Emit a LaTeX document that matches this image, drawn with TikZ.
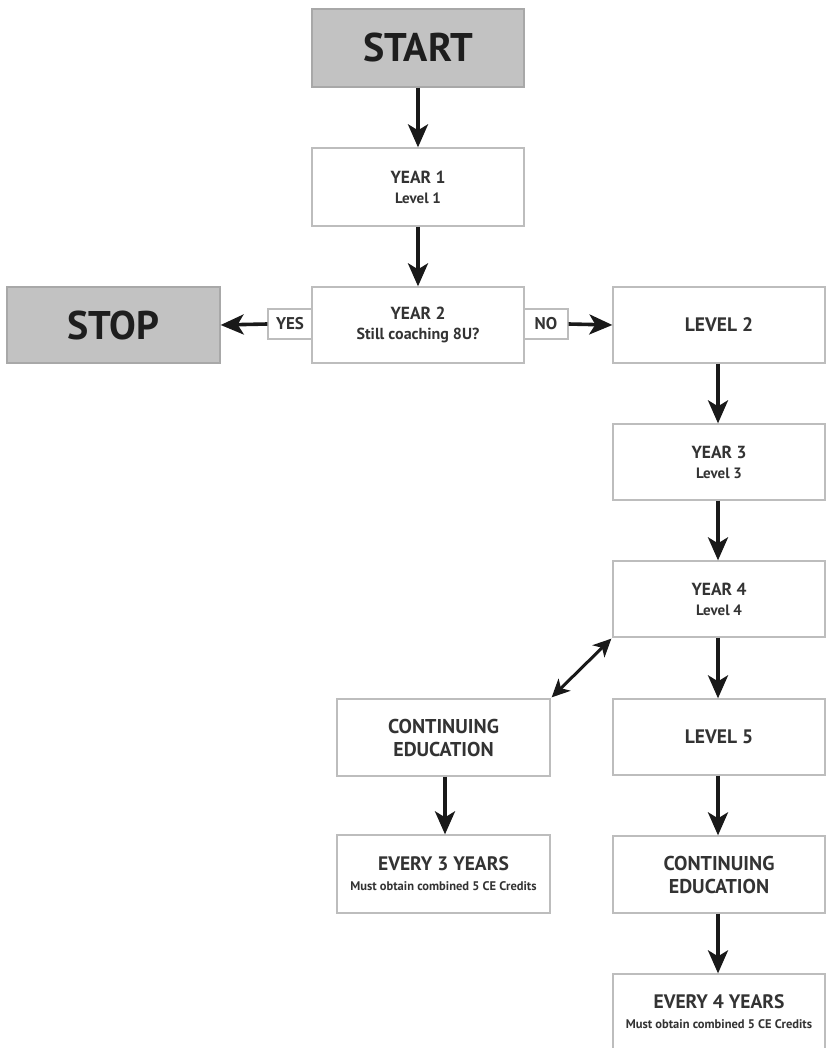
\documentclass[tikz,border=0pt]{standalone}
\usepackage{fontspec}
\setmainfont{PT Sans}
\usetikzlibrary{arrows.meta}
\definecolor{boxline}{HTML}{BDBDBD}
\definecolor{gfill}{HTML}{C2C2C2}
\definecolor{gline}{HTML}{A8A8A8}
\definecolor{txt}{HTML}{333333}
\definecolor{dtxt}{HTML}{1E1E1E}
\tikzset{
  box/.style={draw=boxline, line width=1.3pt, fill=white, minimum width=212pt, minimum height=76pt, inner sep=0pt, align=center, text=txt, font=\bfseries\fontsize{15}{20}\selectfont},
  gbox/.style={box, draw=gline, fill=gfill, text=dtxt},
  lbl/.style={draw=boxline, line width=1.1pt, fill=white, minimum width=44pt, minimum height=30pt, inner sep=0pt, text=txt, font=\bfseries\fontsize{17}{18}\selectfont},
  arr/.style={line width=3.6pt, draw=black!90, -{Stealth[length=23pt,width=20pt,inset=6pt]}},
  darr/.style={line width=3pt, draw=black!90, {Stealth[length=18pt,width=17pt,inset=5pt]}-{Stealth[length=18pt,width=17pt,inset=5pt]}},
  big/.style={font=\bfseries\fontsize{40}{44}\selectfont},
  one/.style={font=\bfseries\fontsize{19.5}{21}\selectfont},
  ce/.style={font=\bfseries\fontsize{20}{23}\selectfont},
  ev/.style={font=\bfseries\fontsize{12.5}{20}\selectfont},
}
\newcommand{\twoline}[2]{{\fontsize{17.5}{20}\selectfont #1}\\{\fontsize{15}{20}\selectfont #2}}
\newcommand{\celine}[2]{{\fontsize{19.5}{20}\selectfont #1}\\{#2}}
\begin{document}
\begin{tikzpicture}[x=1pt,y=-1pt]
\useasboundingbox (0,0) rectangle (825,1048);
% left/top column
\node[gbox, big] (start) at (418,48) [minimum height=78pt] {START};
\node[box] (y1) at (418,187) [minimum height=78pt] {\twoline{YEAR 1}{Level 1}};
\node[box] (y2) at (418,325) {{\fontsize{17.5}{20}\selectfont YEAR 2}\\{\fontsize{16}{20}\selectfont Still coaching 8U?}};
\node[gbox, big] (stop) at (113.5,325) [minimum width=213pt] {STOP};
\node[lbl] (yes) at (290,324) {YES};
\node[lbl] (no) at (546,324) {NO};
% right column
\node[box, one] (l2) at (719,325) {LEVEL 2};
\node[box] (y3) at (719,462) {\twoline{YEAR 3}{Level 3}};
\node[box] (y4) at (719,599) {\twoline{YEAR 4}{Level 4}};
\node[box, one] (l5) at (719,737) {LEVEL 5};
\node[box, ce] (ce2) at (719,874.5) [minimum height=77pt] {CONTINUING\\EDUCATION};
\node[box, ev] (e4) at (719,1012) {\celine{EVERY 4 YEARS}{Must obtain combined 5 CE Credits}};
% left lower column
\node[box, ce] (ce1) at (443.5,737.5) [minimum width=213pt, minimum height=77pt] {CONTINUING\\EDUCATION};
\node[box, ev] (e3) at (443.5,874) [minimum width=213pt, minimum height=78pt] {\celine{EVERY 3 YEARS}{Must obtain combined 5 CE Credits}};
% connectors
\draw[arr] (start.south) -- (y1.north);
\draw[arr] (y1.south) -- (y2.north);
\draw[arr] (yes.west) -- (stop.east);
\draw[arr] (no.east) -- (l2.west);
\draw[arr] (l2.south -| 718,0) -- (y3.north -| 718,0);
\draw[arr] (y3.south -| 718,0) -- (y4.north -| 718,0);
\draw[arr] (y4.south -| 718,0) -- (l5.north -| 718,0);
\draw[arr] (l5.south -| 718,0) -- (ce2.north -| 718,0);
\draw[arr] (ce2.south -| 718,0) -- (e4.north -| 718,0);
\draw[arr] (ce1.south -| 445,0) -- (e3.north -| 445,0);
\draw[darr] ([shift={(1,-1)}]ce1.north east) -- ([shift={(-1,1)}]y4.south west);
\end{tikzpicture}
\end{document}
